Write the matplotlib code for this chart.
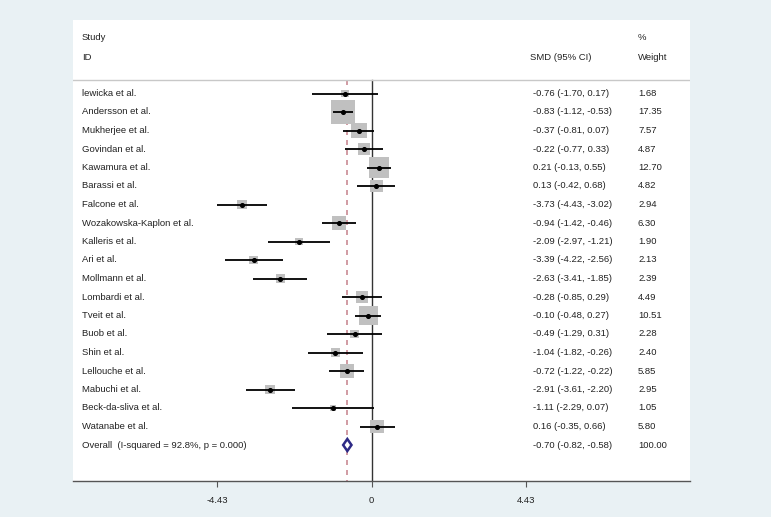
import matplotlib.pyplot as plt
import numpy as np
from matplotlib.transforms import blended_transform_factory

studies = ['lewicka et al.', 'Andersson et al.', 'Mukherjee et al.', 'Govindan et al.',
           'Kawamura et al.', 'Barassi et al.', 'Falcone et al.', 'Wozakowska-Kaplon et al.',
           'Kalleris et al.', 'Ari et al.', 'Mollmann et al.', 'Lombardi et al.', 'Tveit et al.',
           'Buob et al.', 'Shin et al.', 'Lellouche et al.', 'Mabuchi et al.',
           'Beck-da-sliva et al.', 'Watanabe et al.']
smd = [-0.76, -0.83, -0.37, -0.22, 0.21, 0.13, -3.73, -0.94, -2.09, -3.39, -2.63,
       -0.28, -0.10, -0.49, -1.04, -0.72, -2.91, -1.11, 0.16]
lo = [-1.70, -1.12, -0.81, -0.77, -0.13, -0.42, -4.43, -1.42, -2.97, -4.22, -3.41,
      -0.85, -0.48, -1.29, -1.82, -1.22, -3.61, -2.29, -0.35]
hi = [0.17, -0.53, 0.07, 0.33, 0.55, 0.68, -3.02, -0.46, -1.21, -2.56, -1.85,
      0.29, 0.27, 0.31, -0.26, -0.22, -2.20, 0.07, 0.66]
weight = [1.68, 17.35, 7.57, 4.87, 12.70, 4.82, 2.94, 6.30, 1.90, 2.13, 2.39,
          4.49, 10.51, 2.28, 2.40, 5.85, 2.95, 1.05, 5.80]
overall = (-0.70, -0.82, -0.58)
overall_label = 'Overall  (I-squared = 92.8%, p = 0.000)'
xticks = [-4.43, 0, 4.43]

bg = '#e9f1f4'
fs = 6.8
tc = '#222222'
plt.rcParams['font.family'] = ['Liberation Sans', 'DejaVu Sans']

fig = plt.figure(figsize=(7.71, 5.17), dpi=100, facecolor=bg)
ax = fig.add_axes([73/771, 36/517, 617/771, 461/517])
ax.set_facecolor('white')
ax.set_xlim(-8.576, 9.139)
ax.set_ylim(481, 20)   # y measured in pixel rows from top

for s in ['top', 'left', 'right']:
    ax.spines[s].set_visible(False)
ax.spines['bottom'].set_color('#555555')
ax.spines['bottom'].set_linewidth(1.0)
ax.set_yticks([])
ax.set_xticks(xticks)
ax.set_xticklabels(['%g' % t for t in xticks], fontsize=fs, color=tc)
ax.tick_params(axis='x', direction='out', length=4, color='#555555', pad=7)

tr = blended_transform_factory(ax.transAxes, ax.transData)
x_id, x_smd, x_w = 0.0146, 0.7455, 0.9157

# header
ax.text(x_id, 38, 'Study', transform=tr, fontsize=fs, va='center', color=tc)
ax.text(x_id, 57, 'ID', transform=tr, fontsize=fs, va='center', color=tc)
ax.text(x_smd - 0.005, 57, 'SMD (95% CI)', transform=tr, fontsize=fs, va='center', color=tc)
ax.text(x_w, 38, '%', transform=tr, fontsize=fs, va='center', color=tc)
ax.text(x_w, 57, 'Weight', transform=tr, fontsize=fs, va='center', color=tc)
ax.axhline(80, color='#c8c8c8', lw=1.0)

# reference lines
ax.plot([0, 0], [80, 481], color='#333333', lw=1.0, zorder=1)
ax.plot([overall[0]] * 2, [80, 481], color='#c98a94', lw=1.2, ls=(0, (3, 3)), zorder=1)

y0, dy = 93.5, 18.5
ys = y0 + dy * np.arange(len(studies))
w = np.array(weight)
ax.scatter(smd, ys, s=17.2 * w, marker='s', color='#c0c0c0', zorder=2, linewidths=0)
ax.hlines(ys, lo, hi, color='black', lw=1.3, zorder=3)
ax.scatter(smd, ys, s=7, color='black', zorder=4)

for yy, name, m, l, h, wt in zip(ys, studies, smd, lo, hi, weight):
    ax.text(x_id, yy, name, transform=tr, fontsize=fs, va='center', color=tc)
    ax.text(x_smd, yy, '%.2f (%.2f, %.2f)' % (m, l, h), transform=tr, fontsize=fs,
            va='center', color=tc)
    ax.text(x_w, yy, '%.2f' % wt, transform=tr, fontsize=fs, va='center', color=tc)

# overall diamond
yo = y0 + dy * len(studies)
est, olo, ohi = overall
ax.fill([olo, est, ohi, est, olo], [yo, yo - 6, yo, yo + 6, yo],
        facecolor='white', edgecolor='#2e2a86', lw=1.8, zorder=5)
ax.text(x_id, yo, overall_label, transform=tr, fontsize=fs, va='center', color=tc)
ax.text(x_smd, yo, '%.2f (%.2f, %.2f)' % overall, transform=tr, fontsize=fs,
        va='center', color=tc)
ax.text(x_w, yo, '100.00', transform=tr, fontsize=fs, va='center', color=tc)

fig.savefig('out.png', dpi=100, facecolor=bg)
